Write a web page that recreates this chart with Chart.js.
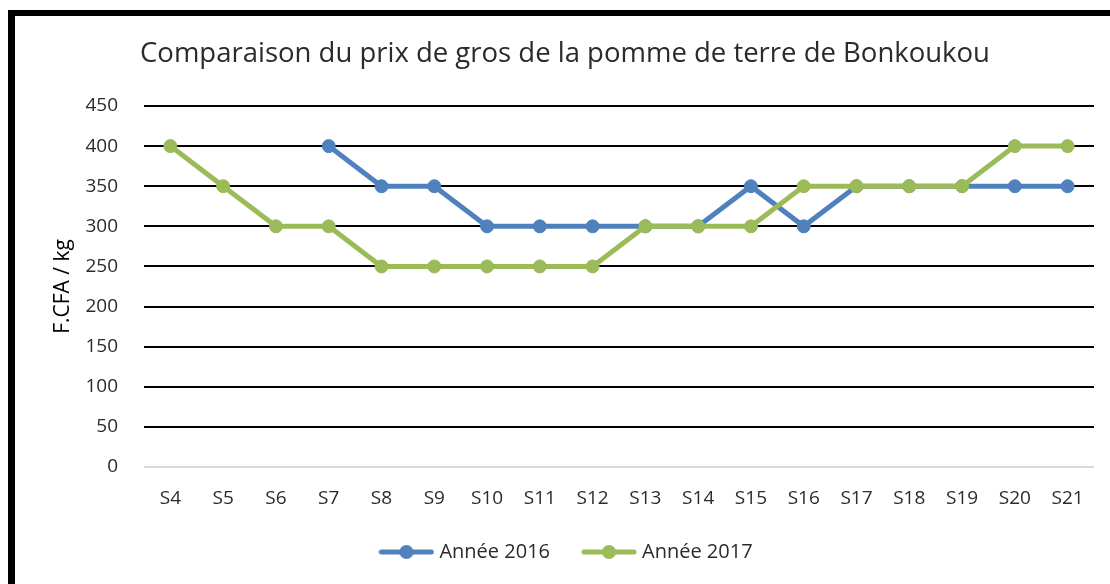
<!DOCTYPE html>
<html>
<head>
<meta charset="utf-8">
<script src="https://cdn.jsdelivr.net/npm/chart.js@4.4.1/dist/chart.umd.min.js"></script>
<style>
  html, body { margin: 0; padding: 0; background: #fff; }
  #wrap { position: relative; width: 1110px; height: 584px; overflow: hidden; }
  #frame { position: absolute; left: 8px; top: 10px; width: 1300px; height: 800px;
           border-left: 7px solid #000; border-top: 6px solid #000; }
  #c { position: absolute; left: 0; top: 0; }
</style>
</head>
<body>
<div id="wrap">
  <div id="frame"></div>
  <canvas id="c" width="1110" height="584"></canvas>
</div>
<script>
const categories = ["S4","S5","S6","S7","S8","S9","S10","S11","S12","S13","S14","S15","S16","S17","S18","S19","S20","S21"];
const prices2016 = [null, null, null, 400, 350, 350, 300, 300, 300, 300, 300, 350, 300, 350, 350, 350, 350, 350];
const prices2017 = [400, 350, 300, 300, 250, 250, 250, 250, 250, 300, 300, 300, 350, 350, 350, 350, 400, 400];
const seriesNames = ["Année 2016", "Année 2017"];
const yTicks = [0, 50, 100, 150, 200, 250, 300, 350, 400, 450];

const BLUE = '#4F81BD';
const GREEN = '#9BBB59';
const FONT = '"Open Sans", sans-serif';
const TEXT = '#2b2b2b';

function legendMarker(color) {
  const cv = document.createElement('canvas');
  cv.width = 56; cv.height = 16;
  const g = cv.getContext('2d');
  g.strokeStyle = color; g.lineWidth = 5; g.lineCap = 'round';
  g.beginPath(); g.moveTo(3, 8); g.lineTo(53, 8); g.stroke();
  g.fillStyle = color;
  g.beginPath(); g.arc(28, 8, 7, 0, Math.PI * 2); g.fill();
  return cv;
}

const boxShift = {
  id: 'boxShift',
  afterLayout(chart) {
    if (chart.legend) { chart.legend.left += 14; chart.legend.right += 14; }
    if (chart.titleBlock) { chart.titleBlock.left += 11; chart.titleBlock.right += 11; }
  }
};

new Chart(document.getElementById('c'), {
  type: 'line',
  data: {
    labels: categories,
    datasets: [
      { label: seriesNames[0], data: prices2016, borderColor: BLUE, backgroundColor: BLUE,
        borderWidth: 5, pointRadius: 6.5, pointBorderWidth: 1, pointBackgroundColor: BLUE,
        pointBorderColor: BLUE, tension: 0, order: 1 },
      { label: seriesNames[1], data: prices2017, borderColor: GREEN, backgroundColor: GREEN,
        borderWidth: 5, pointRadius: 6.5, pointBorderWidth: 1, pointBackgroundColor: GREEN,
        pointBorderColor: GREEN, tension: 0, order: 0 }
    ]
  },
  plugins: [boxShift],
  options: {
    responsive: false,
    animation: false,
    devicePixelRatio: 1,
    layout: { padding: { left: 14, right: 16, top: 16, bottom: 12 } },
    plugins: {
      title: {
        display: true,
        text: 'Comparaison du prix de gros de la pomme de terre de Bonkoukou',
        color: TEXT,
        font: { family: FONT, size: 27.5, weight: 'normal' },
        padding: { top: 22, bottom: 35 }
      },
      legend: {
        position: 'bottom',
        labels: {
          color: TEXT,
          font: { family: FONT, size: 20 },
          usePointStyle: true,
          pointStyleWidth: 46,
          padding: 36,
          generateLabels(chart) {
            return chart.data.datasets.map((ds, i) => ({
              text: ds.label, fillStyle: ds.borderColor, strokeStyle: ds.borderColor,
              lineWidth: 0, pointStyle: legendMarker(ds.borderColor), datasetIndex: i,
              hidden: false, fontColor: TEXT
            }));
          }
        }
      },
      tooltip: { enabled: false }
    },
    scales: {
      x: {
        offset: true,
        grid: { display: false, drawTicks: false, offset: true },
        border: { display: false },
        ticks: { color: TEXT, font: { family: FONT, size: 19 }, padding: 20, maxRotation: 0, autoSkip: false },
        afterFit(s) { s.height = 39; }
      },
      y: {
        min: 0, max: 450,
        afterBuildTicks(s) { s.ticks = yTicks.map(v => ({ value: v })); },
        grid: { drawTicks: false, lineWidth: 2,
                color: ctx => (ctx.tick && ctx.tick.value === 0) ? '#D9D9D9' : '#000000' },
        border: { display: false },
        ticks: { color: TEXT, font: { family: FONT, size: 19 }, padding: 26 },
        title: { display: true, text: 'F.CFA / kg', color: '#000',
                 font: { family: FONT, size: 21 }, padding: { top: 36, bottom: 0 } },
        afterFit(s) { s.width = 130; }
      }
    }
  }
});
</script>
</body>
</html>
